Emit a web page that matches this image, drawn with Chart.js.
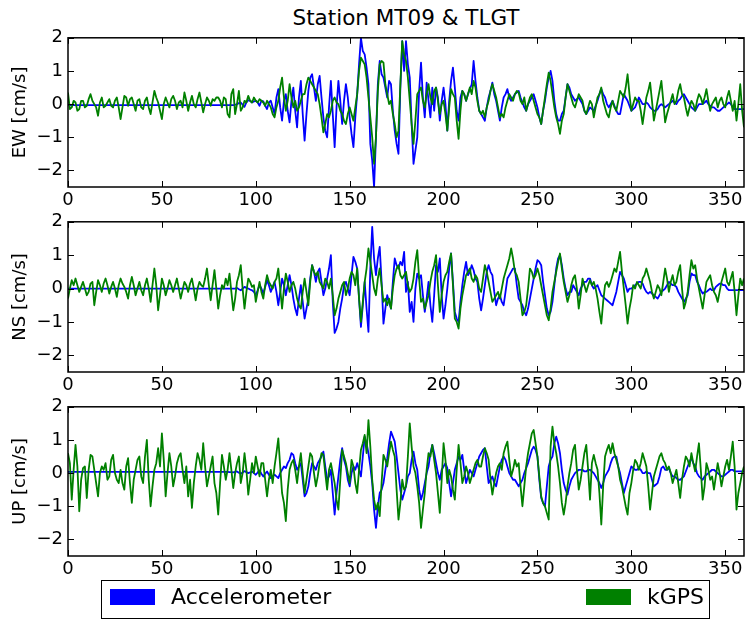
<!DOCTYPE html>
<html>
<head>
<meta charset="utf-8">
<script src="https://cdn.jsdelivr.net/npm/chart.js@4.4.1/dist/chart.umd.min.js"></script>
<style>
  html, body { margin: 0; padding: 0; background: #fff; overflow: hidden; }
  body { width: 746px; height: 622px; position: relative; font-family: 'DejaVu Sans', sans-serif; color: #000; }
  canvas { position: absolute; left: 0; }
  #title { position: absolute; left: 106px; width: 600px; top: 7px; text-align: center; font-size: 21.5px; line-height: 21px; }
  #legendBox { position: absolute; left: 101px; top: 580px; width: 609px; height: 39px; box-sizing: border-box; border: 1.5px solid #000; }
  .patch { position: absolute; top: 589px; width: 45px; height: 16px; }
  .lbl { position: absolute; top: 586px; font-size: 22px; line-height: 22px; white-space: nowrap; }
</style>
</head>
<body>
<div id="title">Station MT09 &amp; TLGT</div>
<canvas id="ew" width="746" height="195" style="top:22px"></canvas>
<canvas id="ns" width="746" height="196" style="top:206px"></canvas>
<canvas id="up" width="746" height="195" style="top:391px"></canvas>
<div id="legendBox"></div>
<div class="patch" style="left:110px;background:#0000ff"></div>
<div class="lbl" style="left:171px">Accelerometer</div>
<div class="patch" style="left:586px;background:#008000"></div>
<div class="lbl" style="left:647px">kGPS</div>

<script>
// time axis: one sample per second, 0..360 s
const seconds = Array.from({ length: 361 }, (_, i) => i);
const xTicks = [0, 50, 100, 150, 200, 250, 300, 350];
const yTicks = [-2, -1, 0, 1, 2];

// EW component [cm/s], 20 s per row
const ewAcc = [
  -0.03, -0.03, -0.03, -0.03, -0.03, -0.03, -0.03, -0.03, -0.03, -0.03, -0.03, -0.03, -0.03, -0.03, -0.03, -0.03, -0.03, -0.03, -0.03, -0.03,
  -0.03, -0.03, -0.03, -0.03, -0.03, -0.03, -0.03, -0.03, -0.03, -0.03, -0.03, -0.03, -0.03, -0.03, -0.03, -0.03, -0.03, -0.03, -0.03, -0.03,
  -0.03, -0.03, -0.03, -0.03, -0.03, -0.03, -0.03, -0.03, -0.03, -0.03, -0.03, -0.03, -0.03, -0.03, -0.03, -0.03, -0.03, -0.03, -0.03, -0.03,
  -0.03, -0.03, -0.03, -0.03, -0.03, -0.03, -0.03, -0.03, -0.03, -0.03, -0.03, -0.03, -0.03, -0.03, -0.03, -0.03, -0.03, -0.03, -0.03, -0.03,
  -0.03, -0.03, -0.03, -0.03, -0.03, -0.03, -0.03, -0.03, -0.03, -0.02, 0.0, 0.03, 0.05, -0.02, -0.08, 0.05, 0.12, 0.1, 0.05, 0.08,
  0.1, 0.05, -0.05, 0.1, 0.08, -0.05, -0.15, 0.05, 0.1, -0.1, -0.3, 0.2, 0.45, -0.1, -0.5, 0.1, 0.3, -0.2, -0.55, 0.1,
  0.5, -0.2, -0.7, 0.2, 0.7, -0.3, -1.1, -0.3, 0.4, 0.8, 0.9, 0.5, 0.1, 0.6, 0.85, 0.2, -0.4, -0.8, -1.0, -0.1,
  0.7, -0.3, -1.3, -0.1, 0.7, 0.1, -0.6, 0.1, 0.6, 0.2, -0.4, -0.9, -1.3, -0.4, 0.3, 1.2, 2.0, 1.6, 1.5, 1.1,
  0.6, -1.2, -1.7, -2.5, -1.0, 0.6, 1.3, 0.9, 0.8, 0.5, 0.2, 0.7, 0.6, -0.2, -0.8, -1.2, -1.5, 0.5, 1.9, 1.0,
  1.9, 1.2, 0.8, -0.6, -1.8, -1.4, -1.0, 0.4, 1.25, 0.2, -0.4, 0.65, 0.1, -0.4, 0.5, -0.2, 0.5, 0.2, -0.5, 0.1,
  0.5, 0.0, -0.8, 0.1, 0.7, 1.1, 0.5, -0.2, -0.5, 0.2, 0.4, 0.3, 0.1, 0.3, 0.45, 0.6, 1.3, 0.7, 0.2, -0.2,
  -0.3, -0.4, -0.5, -0.1, 0.2, 0.4, 0.65, 0.3, 0.1, -0.2, -0.5, -0.1, 0.2, 0.3, 0.45, 0.2, 0.1, 0.2, 0.3, 0.35,
  0.4, 0.2, 0.05, -0.1, -0.2, 0.0, 0.1, 0.2, 0.3, 0.1, -0.1, -0.4, -0.6, -0.2, 0.1, 0.5, 0.8, 1.0, 0.7, 0.1,
  -0.3, -0.5, -0.5, -0.3, -0.2, 0.2, 0.6, 0.5, 0.3, 0.2, 0.1, 0.15, 0.2, 0.1, 0.0, -0.2, -0.3, -0.2, -0.1, -0.15,
  -0.2, -0.05, 0.1, 0.3, 0.45, 0.3, 0.2, 0.0, -0.1, 0.0, 0.1, -0.05, -0.2, -0.3, -0.3, 0.0, 0.3, 0.2, 0.1, -0.05,
  -0.2, -0.15, -0.1, 0.05, 0.2, 0.1, 0.0, 0.0, 0.05, 0.0, -0.1, -0.15, -0.2, -0.2, -0.15, -0.05, 0.0, -0.05, -0.1, -0.05,
  0.0, 0.05, 0.1, 0.05, 0.0, 0.1, 0.15, 0.25, 0.3, 0.2, 0.1, 0.0, -0.1, -0.15, -0.2, -0.1, 0.0, 0.0, 0.0, 0.05,
  0.1, 0.0, -0.05, -0.1, -0.1, -0.15, -0.2, -0.2, -0.15, -0.1, -0.05, 0.0, 0.05, 0.0, -0.1, -0.15, -0.15, -0.15, -0.15, -0.15,
  -0.15
];
const ewGps = [
  0.35, -0.15, -0.1, 0.1, 0.05, -0.2, -0.15, 0.1, 0.1, -0.1, -0.05, 0.15, 0.3, 0.1, 0.0, -0.1, -0.35, 0.05, 0.2, -0.1,
  -0.05, 0.05, 0.15, -0.05, -0.1, 0.1, 0.2, -0.1, -0.45, -0.1, 0.25, 0.2, -0.05, 0.15, 0.2, 0.0, -0.2, 0.1, 0.15, -0.1,
  -0.15, 0.1, 0.2, -0.1, -0.3, 0.05, 0.4, 0.2, 0.05, -0.2, -0.45, 0.0, 0.2, 0.05, -0.1, 0.15, 0.25, 0.1, -0.15, 0.05,
  0.1, -0.1, 0.35, 0.1, -0.2, 0.05, 0.25, 0.0, -0.1, 0.15, 0.35, 0.05, -0.25, 0.0, 0.2, 0.1, -0.05, 0.15, 0.1, 0.2,
  0.2, 0.1, -0.1, 0.2, 0.15, -0.3, -0.4, 0.3, 0.45, -0.3, 0.0, 0.4, -0.2, -0.1, 0.1, 0.05, 0.25, 0.1, 0.05, 0.2,
  0.1, 0.05, 0.15, 0.1, 0.05, -0.05, 0.1, 0.0, -0.1, -0.3, -0.4, -0.1, 0.1, 0.5, 0.8, 0.2, -0.2, 0.1, 0.6, 0.2,
  -0.1, 0.1, -0.2, -0.1, 0.1, 0.3, 0.3, 0.6, 0.8, 0.7, 0.6, 0.5, 0.4, 0.3, 0.0, -0.4, -0.85, -0.6, -0.3, -0.4,
  -0.2, 0.1, 0.2, 0.05, 0.0, -0.2, -0.3, -0.5, -0.6, -0.3, -0.1, -0.3, -0.5, -0.1, 0.3, 1.0, 1.4, 1.3, 1.2, 0.8,
  0.2, -0.4, -1.0, -1.8, -1.0, 0.4, 1.2, 1.3, 1.25, 0.6, 0.3, 0.0, 0.1, -0.3, -0.6, -1.0, -0.8, 0.6, 1.9, 1.5,
  1.3, 0.8, 0.1, -0.6, -1.2, -0.5, 0.3, 0.4, 0.5, 0.1, -0.1, 0.3, 0.6, 0.2, 0.0, 0.4, 0.5, 0.1, -0.3, 0.0,
  0.1, -0.3, -0.8, -0.1, 0.45, 0.3, 0.2, -0.5, -1.05, -0.2, 0.4, 0.3, 0.1, 0.3, 0.5, 0.3, 0.7, 0.5, 0.1, -0.2,
  -0.3, -0.2, -0.4, -0.1, 0.1, 0.4, 0.6, 0.4, 0.2, -0.1, -0.4, -0.3, -0.4, -0.1, 0.1, 0.3, 0.2, 0.1, 0.3, 0.4,
  0.35, 0.1, 0.0, 0.2, -0.2, 0.0, 0.2, 0.3, 0.1, -0.1, -0.3, -0.4, -0.6, -0.2, 0.2, 0.6, 0.95, 0.7, 0.3, -0.1,
  -0.4, -0.6, -0.9, -0.5, -0.3, 0.2, 0.6, 0.4, 0.2, 0.0, -0.1, 0.1, 0.3, 0.2, 0.1, -0.2, -0.3, -0.1, 0.1, 0.0,
  -0.4, -0.1, 0.2, 0.3, 0.5, 0.1, -0.1, -0.3, -0.4, -0.1, 0.1, -0.1, -0.2, 0.1, 0.4, 0.3, 0.2, 0.5, 0.9, 0.3,
  -0.2, 0.0, 0.2, 0.1, 0.1, -0.2, -0.6, -0.2, 0.2, 0.4, 0.65, 0.1, -0.5, -0.2, 0.1, 0.4, 0.7, 0.1, -0.55, -0.3,
  -0.1, 0.1, 0.3, 0.0, 0.1, 0.4, 0.6, 0.3, 0.2, -0.1, -0.35, -0.1, 0.1, 0.0, -0.2, 0.1, 0.3, 0.2, 0.0, 0.2,
  0.45, 0.1, -0.2, 0.0, 0.1, 0.2, -0.1, 0.1, 0.2, 0.0, -0.1, 0.2, 0.4, 0.1, -0.2, 0.1, -0.5, 0.0, 0.6, -0.2,
  -0.7
];

// NS component [cm/s]
const nsAcc = [
  0, 0, 0, 0, 0, 0, 0, 0, 0, 0, 0, 0, 0, 0, 0, 0, 0, 0, 0, 0,
  0, 0, 0, 0, 0, 0, 0, 0, 0, 0, 0, 0, 0, 0, 0, 0, 0, 0, 0, 0,
  0, 0, 0, 0, 0, 0, 0, 0, 0, 0, 0, 0, 0, 0, 0, 0, 0, 0, 0, 0,
  0, 0, 0, 0, 0, 0, 0, 0, 0, 0, 0, 0, 0, 0, 0, 0, 0, 0, 0, 0,
  0, 0, 0, 0, 0, 0, 0, 0, 0, 0, 0.02, -0.02, -0.05, 0.0, 0.05, 0.02, 0.0, -0.03, -0.05, -0.1,
  -0.2, -0.05, 0.1, 0.0, -0.15, 0.05, 0.25, 0.1, -0.1, 0.05, 0.2, -0.1, -0.5, -0.1, 0.3, 0.1, -0.2, 0.1, 0.4, 0.1,
  -0.3, -0.6, -0.8, -0.3, 0.1, -0.4, -0.9, -0.6, -0.3, 0.3, 0.7, 0.5, 0.2, 0.5, 0.6, 0.2, -0.2, 0.0, 0.3, 0.6,
  1.0, -0.4, -1.33, -1.2, -1.0, -0.6, -0.3, 0.1, 0.2, 0.0, -0.2, 0.4, 0.95, 0.8, 0.6, -0.3, -1.15, -0.5, 0.2, -0.6,
  -1.3, 0.6, 1.85, 0.9, 0.4, 0.9, 1.25, 0.2, -1.05, -0.6, -0.2, -0.4, -0.6, 0.2, 0.9, 0.7, 0.6, 0.8, 0.7, 1.1,
  -0.1, 0.2, -0.7, -0.4, -1.0, 0.0, 0.45, 0.3, 0.4, -0.2, -0.7, -0.3, 0.2, -0.5, -1.0, -0.2, 0.7, 0.5, 0.9, -0.2,
  -0.9, -0.5, 0.0, 0.6, 1.05, 0.2, -0.7, -0.9, -1.0, -0.4, 0.1, 0.5, 0.8, 0.4, 0.5, 0.7, 0.55, 0.3, 0.2, -0.3,
  -0.65, -0.3, 0.1, 0.5, 0.7, 0.5, 0.4, -0.1, -0.5, -0.3, -0.2, -0.4, -0.5, -0.1, 0.3, 0.4, 0.5, 0.6, 0.6, 0.1,
  -0.3, -0.4, -0.5, -0.7, -0.8, -0.6, -0.3, 0.0, 0.3, 0.6, 0.85, 0.8, 0.7, 0.2, -0.2, -0.6, -0.8, -0.7, -0.4, 0.1,
  0.6, 0.9, 1.0, 0.7, 0.3, 0.0, -0.2, -0.1, -0.1, 0.1, 0.0, -0.1, -0.2, 0.0, 0.1, 0.2, 0.2, 0.3, 0.3, 0.1,
  0.0, 0.05, 0.1, -0.05, -0.2, -0.25, -0.3, -0.35, -0.4, -0.45, -0.5, -0.3, -0.1, 0.2, 0.5, 0.4, 0.3, 0.1, -0.1, 0.0,
  0.0, 0.05, 0.1, 0.15, 0.2, 0.2, 0.15, 0.0, -0.1, -0.15, -0.1, -0.15, -0.2, -0.25, -0.3, -0.2, -0.1, -0.05, 0.0, 0.1,
  0.2, 0.15, 0.1, 0.1, 0.05, -0.1, -0.2, -0.3, -0.4, -0.3, -0.2, 0.2, 0.45, 0.4, 0.4, 0.2, 0.1, -0.05, -0.15, -0.1,
  -0.1, -0.05, 0.0, -0.05, -0.05, 0.05, 0.1, 0.15, 0.15, 0.1, 0.1, 0.0, -0.05, -0.05, -0.05, -0.05, -0.05, -0.05, -0.05, -0.05,
  -0.05
];
const nsGps = [
  -0.3, 0.0, 0.25, 0.1, 0.3, 0.1, -0.1, 0.05, 0.2, 0.0, -0.2, -0.1, 0.15, 0.2, -0.5, -0.1, 0.25, 0.1, -0.1, 0.15,
  0.3, 0.1, -0.15, 0.05, 0.2, 0.0, -0.25, 0.1, 0.3, 0.15, 0.05, -0.1, -0.3, 0.1, 0.35, 0.1, -0.2, 0.0, 0.2, -0.05,
  -0.2, 0.1, 0.3, 0.0, -0.4, 0.1, 0.6, 0.1, -0.65, -0.2, 0.3, 0.1, -0.2, 0.0, 0.25, 0.1, -0.1, 0.1, 0.3, 0.0,
  -0.3, -0.05, 0.2, 0.1, -0.1, 0.15, 0.3, 0.0, -0.35, 0.0, 0.2, 0.1, 0.05, 0.3, 0.6, 0.1, -0.35, 0.1, 0.55, 0.0,
  -0.6, -0.2, 0.1, 0.0, 0.3, 0.1, 0.45, -0.1, -0.65, -0.3, 0.2, 0.4, 0.7, 0.0, -0.6, -0.1, 0.3, 0.2, 0.05, 0.1,
  -0.4, -0.1, 0.2, -0.1, -0.3, 0.1, 0.4, 0.2, 0.1, 0.0, 0.2, 0.3, 0.6, 0.0, -0.6, 0.0, 0.45, 0.2, -0.1, 0.1,
  0.2, 0.0, -0.3, -0.5, -0.6, -0.1, 0.3, -0.1, -0.5, 0.2, 0.7, 0.5, 0.4, 0.5, 0.2, 0.1, 0.0, 0.3, 0.2, 0.0,
  0.3, -0.2, -0.8, -0.6, -0.3, -0.1, 0.1, 0.2, -0.2, 0.0, 0.3, 0.5, 0.4, 0.1, 0.6, -0.3, -1.0, -0.4, 0.2, 0.6,
  1.2, 0.8, 0.4, 0.0, -0.2, 0.3, 0.6, 0.1, -0.4, -0.3, -0.5, -0.3, -0.6, 0.0, 0.4, 0.6, 0.7, 0.4, 0.3, 0.4,
  0.5, 0.1, -0.1, 0.0, 0.3, 0.8, 1.15, 0.3, -0.4, -0.3, -0.6, -0.4, -0.2, 0.2, 0.5, 0.7, 1.0, 0.1, -0.7, -0.2,
  0.2, 0.4, 0.5, 0.8, 1.05, 0.1, -0.9, -1.0, -1.2, -0.6, -0.2, 0.1, 0.4, 0.5, 0.6, 0.3, 0.2, 0.4, 0.3, 0.0,
  -0.1, 0.3, 0.7, 0.5, 0.2, -0.1, -0.4, -0.3, -0.2, -0.1, -0.3, 0.0, 0.3, 0.5, 0.7, 0.9, 1.2, 0.9, 0.5, 0.4,
  0.2, -0.3, -0.8, -0.7, -0.5, 0.0, 0.6, 0.5, 0.3, 0.4, 0.6, 0.4, 0.1, -0.2, -0.5, -0.8, -0.95, -0.6, -0.1, 0.2,
  0.5, 0.8, 1.05, 0.6, 0.2, -0.1, -0.4, -0.2, 0.1, 0.3, 0.4, 0.0, -0.6, -0.2, 0.3, 0.1, -0.1, 0.1, 0.25, 0.1,
  0.2, 0.0, -0.3, -0.7, -1.05, -0.4, 0.1, 0.2, 0.05, 0.2, 0.4, 0.6, 0.5, 0.8, 1.1, 0.5, 0.0, -0.5, -1.05, -0.6,
  -0.3, 0.1, 0.0, 0.2, 0.1, 0.0, 0.3, 0.4, 0.6, 0.4, 0.2, -0.1, -0.3, -0.1, 0.1, 0.0, -0.2, 0.2, 0.6, 0.3,
  -0.1, 0.2, 0.4, 0.1, 0.2, 0.5, 0.7, 0.0, -0.6, -0.4, -0.1, 0.4, 0.85, 0.6, 0.7, 0.3, 0.0, -0.3, -0.6, -0.2,
  0.2, 0.3, 0.4, 0.1, -0.1, -0.2, -0.4, -0.1, 0.2, 0.4, 0.6, 0.2, 0.1, 0.3, 0.5, -0.1, -0.8, -0.2, 0.3, 0.1,
  0.3
];

// UP component [cm/s]
const upAcc = [
  0.04, 0.04, 0.04, 0.04, 0.04, 0.04, 0.04, 0.04, 0.04, 0.04, 0.04, 0.04, 0.04, 0.04, 0.04, 0.04, 0.04, 0.04, 0.04, 0.04,
  0.04, 0.04, 0.04, 0.04, 0.04, 0.04, 0.04, 0.04, 0.04, 0.04, 0.04, 0.04, 0.04, 0.04, 0.04, 0.04, 0.04, 0.04, 0.04, 0.04,
  0.04, 0.04, 0.04, 0.04, 0.04, 0.04, 0.04, 0.04, 0.04, 0.04, 0.04, 0.04, 0.04, 0.04, 0.04, 0.04, 0.04, 0.04, 0.04, 0.04,
  0.04, 0.04, 0.04, 0.04, 0.04, 0.04, 0.04, 0.04, 0.04, 0.04, 0.04, 0.04, 0.04, 0.04, 0.04, 0.04, 0.04, 0.04, 0.04, 0.04,
  0.04, 0.04, 0.04, 0.04, 0.04, 0.04, 0.03, 0.03, 0.02, 0.04, 0.05, 0.01, -0.02, 0.02, 0.06, 0.03, 0.0, 0.02, 0.05, 0.0,
  -0.05, 0.02, 0.08, -0.02, -0.1, -0.02, 0.05, -0.05, -0.15, -0.1, -0.05, -0.1, -0.15, 0.0, 0.1, 0.2, 0.15, 0.3, 0.4, 0.6,
  0.55, 0.3, 0.1, 0.2, 0.3, -0.2, -0.7, -0.6, -0.4, 0.0, 0.3, 0.2, 0.1, 0.3, 0.4, 0.5, 0.65, 0.2, -0.2, -0.1,
  0.1, -0.6, -1.25, -0.6, -0.1, 0.4, 0.75, 0.4, 0.2, -0.2, -0.4, 0.0, 0.2, 0.1, 0.3, 0.1, -0.1, 0.5, 1.1, 0.9,
  0.6, 0.2, -0.3, -1.1, -1.65, -1.0, -0.6, -0.5, -0.3, 0.1, 0.45, 0.9, 1.25, 1.1, 0.95, 0.5, 0.0, -0.5, -0.8, -0.6,
  -0.4, -0.1, 0.0, 0.4, 0.65, 0.3, 0.1, -0.5, -0.8, -0.6, -0.3, 0.0, 0.2, 0.6, 0.85, 0.6, 0.3, 0.0, -0.2, 0.1,
  0.2, 0.3, 0.15, -0.3, -0.7, -0.3, 0.1, 0.3, 0.5, 0.4, 0.55, 0.1, -0.3, -0.1, 0.1, 0.0, -0.1, 0.1, 0.3, 0.5,
  0.6, 0.7, 0.75, 0.2, -0.3, -0.2, -0.1, -0.3, -0.4, -0.1, 0.2, 0.4, 0.5, 0.4, 0.2, 0.0, -0.1, -0.2, -0.2, -0.3,
  -0.4, -0.3, -0.2, 0.0, 0.15, 0.3, 0.5, 0.7, 0.8, 0.7, 0.5, -0.2, -0.75, -0.9, -1.0, -0.4, 0.2, 0.4, 0.5, 0.9,
  1.1, 0.9, 0.6, 0.1, -0.3, -0.5, -0.65, -0.4, -0.2, -0.1, 0.0, 0.05, 0.1, 0.1, 0.1, 0.05, 0.05, 0.1, 0.1, 0.05,
  0.0, -0.1, -0.2, -0.3, -0.45, -0.3, -0.1, 0.0, 0.1, 0.3, 0.45, 0.5, 0.5, 0.2, 0.0, -0.3, -0.6, -0.4, -0.2, 0.0,
  0.2, 0.15, 0.1, 0.1, 0.15, 0.1, 0.0, 0.0, 0.05, 0.0, 0.0, -0.2, -0.4, -0.35, -0.3, -0.1, 0.15, 0.2, 0.1, 0.1,
  0.15, 0.0, -0.1, -0.1, -0.15, -0.2, -0.2, -0.15, -0.1, 0.05, 0.2, 0.35, 0.45, 0.3, 0.2, 0.0, -0.1, -0.15, -0.2, -0.1,
  -0.05, 0.0, 0.05, 0.1, 0.1, 0.05, 0.0, -0.05, -0.1, -0.1, -0.05, 0.0, 0.05, 0.1, 0.1, 0.05, 0.05, 0.05, 0.05, 0.05,
  0.05
];
const upGps = [
  0.6, 0.3, -0.8, 0.1, 0.85, 0.2, -1.15, -0.2, 0.15, 0.2, -0.75, 0.1, 0.55, 0.5, 0.1, -0.3, -0.7, 0.0, 0.2, 0.1,
  0.3, -0.2, -0.1, 0.4, 0.55, 0.0, -0.2, -0.3, 0.1, -0.3, -0.5, 0.2, 0.45, -0.3, -0.9, -0.2, 0.1, 0.4, 0.5, -0.1,
  -0.3, 0.5, 1.0, -0.2, -1.0, -0.4, 0.1, 0.3, 0.75, 0.2, 1.2, 0.4, -0.7, 0.0, 0.6, 0.2, -0.4, -0.1, 0.3, 0.5,
  0.6, 0.1, -0.3, 0.2, -0.7, -0.2, -1.05, -0.3, 0.2, 0.6, 0.4, 0.1, 0.9, 0.2, -0.4, -0.1, 0.2, 0.5, -0.3, -0.6,
  -1.25, -0.3, 0.55, 0.2, -0.2, 0.1, 0.6, 0.1, -0.45, 0.0, 0.3, 0.5, -0.3, 0.0, 0.6, 0.1, -0.65, -0.2, 0.3, 0.0,
  0.5, 0.2, -0.1, 0.3, 0.3, -0.2, -0.7, -0.2, 0.1, -0.3, 0.2, 0.6, 1.05, 0.2, -0.6, -0.9, -1.45, -0.5, 0.1, 0.3,
  0.4, 0.1, -0.3, 0.2, 0.6, 0.0, -0.6, -0.2, 0.2, 0.6, 0.5, 0.0, -0.4, -0.1, 0.3, 0.6, 0.55, 0.0, -0.5, 0.1,
  0.3, 0.0, -0.3, -0.8, -1.1, -0.2, 0.7, 0.5, 0.3, 0.0, -0.3, 0.4, 0.2, -0.3, -0.6, 0.1, 0.7, 0.9, 1.15, 0.6,
  1.6, 0.8, -0.2, -0.8, -1.1, -0.9, -1.3, -0.3, 0.55, 0.4, 0.2, 0.6, 0.95, 0.7, 0.5, -0.5, -1.4, -0.9, -0.2, -0.5,
  -0.4, 0.5, 1.5, 0.8, 0.2, 0.0, -0.4, -0.9, -1.65, -1.1, -0.6, 0.1, 0.6, 0.5, 0.85, 0.4, 0.0, -0.6, -1.2, -0.2,
  0.9, 0.4, -0.3, 0.1, -0.1, -0.5, -0.8, 0.1, 0.85, 0.3, -0.3, -0.1, 0.2, 0.0, -0.3, -0.1, 0.1, 0.3, 0.4, 0.2,
  0.2, 0.5, 0.75, 0.6, 0.4, -0.2, -0.65, -0.3, 0.0, 0.2, 0.3, 0.1, 0.6, 0.8, 0.95, 0.4, -0.1, 0.1, 0.4, 0.2,
  0.3, -0.4, -1.0, -0.4, 0.2, 0.6, 0.9, 1.2, 1.3, 0.9, 0.5, -0.1, -0.7, -0.9, -1.0, -1.2, -1.4, 0.8, 1.4, 0.9,
  0.6, 0.2, -0.3, -0.9, -1.25, -0.9, -0.4, 0.0, 0.3, 0.7, 0.85, 0.1, -0.5, -0.2, 0.2, 0.6, 0.85, 0.1, -0.8, 0.3,
  0.55, 0.3, 0.1, -0.6, -1.55, -0.4, 0.5, 0.7, 0.85, 0.6, 0.9, 0.6, 0.4, 0.2, -0.2, -0.4, -0.7, -1.0, -1.25, -0.6,
  -0.3, 0.1, 0.4, 0.3, 0.1, 0.3, 0.6, 0.4, 0.2, -0.4, -1.1, -0.6, -0.1, 0.1, 0.3, 0.5, 0.6, 0.4, 0.3, 0.1,
  0.2, 0.0, -0.3, -0.1, 0.1, -0.3, -0.75, -0.2, 0.2, 0.5, 0.4, 0.2, 0.6, 0.3, 0.05, 0.5, 0.9, 0.1, -0.8, -0.4,
  0.3, 0.1, -0.2, -0.1, -0.5, -0.1, 0.3, 0.0, -0.4, -0.1, 0.2, 0.4, 0.1, 0.5, 0.95, 0.2, -1.1, -0.6, -0.3, 0.0,
  0.2
];

Chart.defaults.font.family = "'DejaVu Sans', sans-serif";
Chart.defaults.font.size = 18;
Chart.defaults.color = '#000';

// matplotlib style box with inward ticks on all four sides
const frame = {
  id: 'frame',
  afterDraw(chart) {
    const { ctx, chartArea: a, scales: { x, y } } = chart;
    ctx.save();
    ctx.strokeStyle = '#000';
    ctx.lineWidth = 1;
    ctx.beginPath();
    x.ticks.forEach(t => {
      const px = Math.round(x.getPixelForValue(t.value)) + 0.5;
      ctx.moveTo(px, a.bottom); ctx.lineTo(px, a.bottom - 6);
      ctx.moveTo(px, a.top); ctx.lineTo(px, a.top + 6);
    });
    y.ticks.forEach(t => {
      const py = Math.round(y.getPixelForValue(t.value)) + 0.5;
      ctx.moveTo(a.left, py); ctx.lineTo(a.left + 6, py);
      ctx.moveTo(a.right, py); ctx.lineTo(a.right - 6, py);
    });
    ctx.stroke();
    ctx.lineWidth = 1.5;
    ctx.strokeRect(a.left, a.top, a.right - a.left, a.bottom - a.top);
    ctx.restore();
  }
};

function panel(id, label, acc, gps) {
  return new Chart(document.getElementById(id), {
    type: 'line',
    data: {
      labels: seconds,
      datasets: [
        { label: 'Accelerometer', data: acc, borderColor: '#0000ff', borderWidth: 1.8,
          pointRadius: 0, borderJoinStyle: 'round', order: 2 },
        { label: 'kGPS', data: gps, borderColor: '#008000', borderWidth: 1.8,
          pointRadius: 0, borderJoinStyle: 'round', order: 1 }
      ]
    },
    options: {
      responsive: false,
      animation: false,
      layout: { padding: { top: 12, right: 2, left: 0, bottom: 0 } },
      plugins: { legend: { display: false }, tooltip: { enabled: false } },
      scales: {
        x: {
          type: 'linear', min: 0, max: 360,
          grid: { display: false, drawTicks: false },
          border: { display: false },
          afterFit: s => { s.height = 30; },
          afterBuildTicks: s => { s.ticks = xTicks.map(v => ({ value: v })); },
          ticks: { padding: 3, maxRotation: 0, autoSkip: false }
        },
        y: {
          min: -2.5, max: 2,
          grid: { display: false, drawTicks: false },
          border: { display: false },
          afterFit: s => { s.width = 68; },
          afterBuildTicks: s => { s.ticks = yTicks.map(v => ({ value: v })); },
          ticks: {
            padding: 5,
            callback: v => (v < 0 ? '\u2212' + Math.abs(v) : String(v))
          },
          title: { display: true, text: label, padding: { top: 10, bottom: 0 } }
        }
      }
    },
    plugins: [frame]
  });
}

panel('ew', 'EW [cm/s]', ewAcc, ewGps);
panel('ns', 'NS [cm/s]', nsAcc, nsGps);
panel('up', 'UP [cm/s]', upAcc, upGps);
</script>
</body>
</html>
